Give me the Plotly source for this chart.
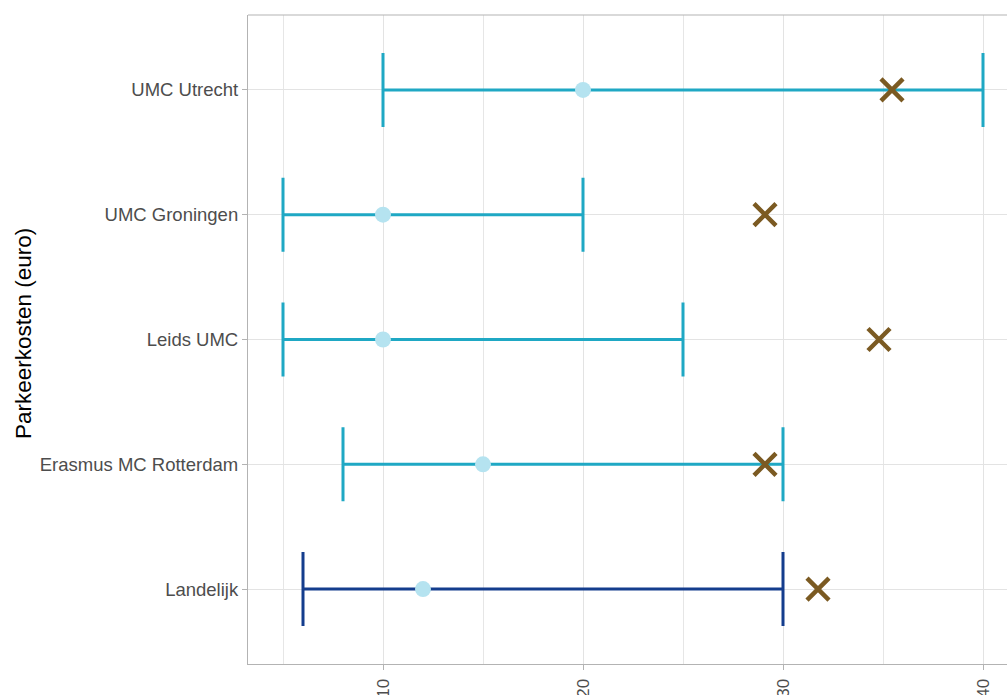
import plotly.graph_objects as go

categories = ["Landelijk", "Erasmus MC Rotterdam", "Leids UMC", "UMC Groningen", "UMC Utrecht"]
min_cost = [6, 8, 5, 5, 10]
max_cost = [30, 30, 25, 20, 40]
median_cost = [12, 15, 10, 10, 20]
x_cost = [31.75, 29.1, 34.8, 29.1, 35.45]
x_ticks = [10, 20, 30, 40]

ypos = list(range(1, len(categories) + 1))

TEAL = "#1fa8c4"
NAVY = "#143d8d"
DOT = "#b5e3f0"
BROWN = "#7b5a22"

fig = go.Figure()

for i, cat in enumerate(categories):
    col = NAVY if cat == "Landelijk" else TEAL
    fig.add_trace(go.Scatter(
        x=[median_cost[i]], y=[ypos[i]], mode="markers",
        marker=dict(size=1, color="rgba(0,0,0,0)"),
        error_x=dict(type="data", symmetric=False,
                     array=[max_cost[i] - median_cost[i]],
                     arrayminus=[median_cost[i] - min_cost[i]],
                     color=col, thickness=3, width=37),
        showlegend=False, hoverinfo="skip"))

fig.add_trace(go.Scatter(
    x=median_cost, y=ypos, mode="markers",
    marker=dict(size=16, color=DOT), showlegend=False))

fig.add_trace(go.Scatter(
    x=x_cost, y=ypos, mode="markers",
    marker=dict(symbol="x-thin", size=22, line=dict(width=4.5, color=BROWN), color=BROWN),
    showlegend=False))

fig.add_annotation(
    text="Parkeerkosten (euro)", textangle=-90,
    xref="paper", yref="paper", x=(23 - 248) / 759, y=(664 - 334) / 649,
    xanchor="center", yanchor="middle", showarrow=False,
    font=dict(family="Liberation Sans, Arial", size=22.5, color="#000000"))

fig.add_shape(type="line", xref="paper", yref="paper", x0=0, x1=1.02, y0=1, y1=1,
              line=dict(color="#b3b3b3", width=1.2))

fig.update_layout(
    width=1007, height=695,
    margin=dict(l=248, r=0, t=15, b=31, autoexpand=False),
    plot_bgcolor="white", paper_bgcolor="white",
    font=dict(family="Liberation Sans, Arial", color="#4d4d4d"),
    xaxis=dict(range=[3.25, 3.25 + 759 / 20], tickvals=x_ticks, ticktext=[str(v) for v in x_ticks],
               tickangle=-90, showgrid=True, gridcolor="#e3e3e3", gridwidth=1,
               minor=dict(dtick=10, tick0=5, showgrid=True, gridcolor="#e6e6e6", gridwidth=1),
               showline=True, linecolor="#b3b3b3", linewidth=1.2,
               ticks="outside", ticklen=5, tickcolor="#b3b3b3", automargin=False,
               ticklabelstandoff=2,
               tickfont=dict(size=17, color="#4d4d4d"), zeroline=False),
    yaxis=dict(range=[0.4, 5.6], tickvals=ypos, ticktext=categories,
               showgrid=True, gridcolor="#e3e3e3", gridwidth=1,
               showline=True, linecolor="#b3b3b3", linewidth=1.2,
               ticks="outside", ticklen=5, tickcolor="#b3b3b3", automargin=False,
               tickfont=dict(size=18.5, color="#4d4d4d"), zeroline=False),
)

fig.write_html("out.html", config={"displayModeBar": False},
               post_script="document.body.style.margin='0';document.body.style.overflow='hidden';")
